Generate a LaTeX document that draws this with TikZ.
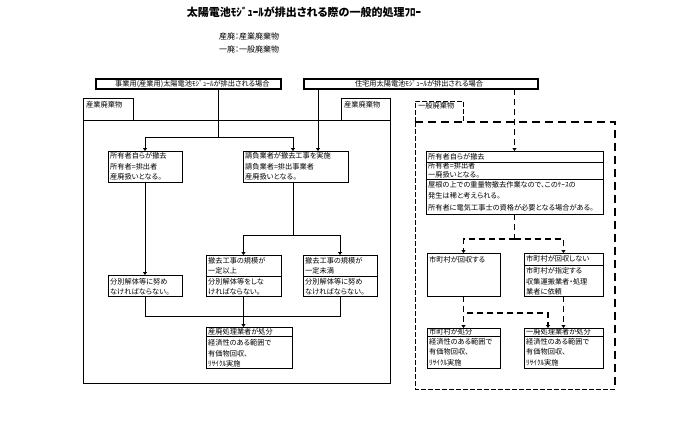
\documentclass[tikz,border=0pt]{standalone}
\usepackage{fontspec}
\setmainfont{Noto Sans CJK JP}[RawFeature={+palt}]
\usetikzlibrary{arrows.meta}
\begin{document}
\begin{tikzpicture}[x=1pt,y=-1pt,
  box/.style={draw, line width=0.8pt, anchor=north west, inner sep=0pt, outer sep=0pt},
  hbox/.style={draw, line width=1.8pt, anchor=north west, inner sep=0pt, outer sep=0pt},
  txt/.style={anchor=west, inner sep=0pt, font=\fontsize{7.2}{8}\selectfont},
  legtxt/.style={anchor=west, inner sep=0pt, font=\fontsize{8}{9}\selectfont},
  ln/.style={line width=0.8pt},
  arr/.style={line width=0.8pt, -{Triangle[width=4pt,length=3pt]}},
  dln/.style={line width=1.1pt, dash pattern=on 6pt off 4pt},
  darr/.style={line width=1.1pt, dash pattern=on 6pt off 4pt, -{Triangle[width=4pt,length=3pt]}},
  thind/.style={line width=0.8pt, dash pattern=on 5pt off 2pt},
  thickd/.style={line width=1.8pt, dash pattern=on 8pt off 5pt}
]
\useasboundingbox[fill=white] (0,0) rectangle (691,421);

% title and legend
\node[inner sep=0pt, font=\fontsize{11}{13}\selectfont\bfseries] (title) at (304,12) {太陽電池ﾓｼﾞｭｰﾙが排出される際の一般的処理ﾌﾛｰ};
\node[legtxt] (leg1) at (219,36) {産廃：産業廃棄物};
\node[legtxt] (leg2) at (219,49) {一廃：一般廃棄物};

% top boxes
\node[hbox, minimum width=185pt, minimum height=10pt] (top1) at (96,79) {};
\node[txt] (top1t) at (115,84) {事業用(産業用)太陽電池ﾓｼﾞｭｰﾙが排出される場合};
\node[hbox, minimum width=234pt, minimum height=10pt] (top2) at (304,79) {};
\node[txt, anchor=center] (top2t) at (419,84) {住宅用太陽電池ﾓｼﾞｭｰﾙが排出される場合};

% industrial waste region
\node[draw, line width=1.3pt, anchor=north west, inner sep=0pt, minimum width=307pt, minimum height=263pt] (big) at (83,120) {};
\node[box, minimum width=50pt, minimum height=22pt] (tabL) at (83,98) {};
\node[txt] (tabLt) at (86,105) {産業廃棄物};
\node[box, minimum width=49pt, minimum height=22pt] (tabR) at (341,98) {};
\node[txt] (tabRt) at (344,105) {産業廃棄物};

% general waste region (dashed)
\coordinate (gTab) at (415,101);
\coordinate (gTabR) at (463,101);
\coordinate (gNW) at (415,122);
\coordinate (gNE) at (615,122);
\coordinate (gSW) at (415,389);
\coordinate (gSE) at (615,389);
\draw[thind] (gNW) -- (gSW) -- (gSE);
\draw[thind] (gNW) -- (gTab) -- (gTabR) -- (gTabR |- gNW);
\draw[thickd] (gNW) -- (gNE) -- (gSE);
\node[txt] (tabGt) at (418,106) {一般廃棄物};

% left column boxes
\node[box, minimum width=74pt, minimum height=31pt] (own) at (108,151) {};
\node[txt] at (110,156) {所有者自らが撤去};
\node[txt] at (110,166.5) {所有者=排出者};
\node[txt] at (110,177) {産廃扱いとなる。};

\node[box, minimum width=105pt, minimum height=31pt] (ukeoi) at (243,151) {};
\node[txt] at (245,156) {請負業者が撤去工事を実施};
\node[txt] at (245,166.5) {請負業者=排出事業者};
\node[txt] at (245,177) {産廃扱いとなる。};

\node[box, minimum width=74pt, minimum height=21pt] (bunL) at (108,275) {};
\node[txt] at (110,282) {分別解体等に努め};
\node[txt] at (110,291.5) {なければならない。};

\node[box, minimum width=75pt, minimum height=41pt] (ijo) at (206,255) {};
\draw[ln] ([yshift=-21pt]ijo.north west) -- ([yshift=-21pt]ijo.north east);
\node[txt] at (208,261) {撤去工事の規模が};
\node[txt] at (208,271) {一定以上};
\node[txt] at (208,282) {分別解体等をしな};
\node[txt] at (208,292) {ければならない。};

\node[box, minimum width=74pt, minimum height=41pt] (miman) at (303,255) {};
\draw[ln] ([yshift=-21pt]miman.north west) -- ([yshift=-21pt]miman.north east);
\node[txt] at (305,261) {撤去工事の規模が};
\node[txt] at (305,271) {一定未満};
\node[txt] at (305,282) {分別解体等に努め};
\node[txt] at (305,292) {なければならない。};

\node[box, minimum width=86pt, minimum height=41pt] (sanpai) at (206,327) {};
\draw[ln] ([yshift=-9pt]sanpai.north west) -- ([yshift=-9pt]sanpai.north east);
\node[txt] at (208,332) {産廃処理業者が処分};
\node[txt] at (208,343) {経済性のある範囲で};
\node[txt] at (208,353.5) {有価物回収、};
\node[txt] at (208,364) {ﾘｻｲｸﾙ実施};

% right column boxes
\node[box, minimum width=177pt, minimum height=63pt] (ownR) at (426,151) {};
\draw[ln] ([yshift=-11pt]ownR.north west) -- ([yshift=-11pt]ownR.north east);
\draw[ln] ([yshift=-28pt]ownR.north west) -- ([yshift=-28pt]ownR.north east);
\node[txt] at (428,156.5) {所有者自らが撤去};
\node[txt] at (428,166) {所有者=排出者};
\node[txt] at (428,175) {一廃扱いとなる。};
\node[txt] at (428,184.5) {屋根の上での重量物撤去作業なので、このｹｰｽの};
\node[txt] at (428,195.5) {発生は稀と考えられる。};
\node[txt] at (428,207.5) {所有者に電気工事士の資格が必要となる場合がある。};

\node[box, minimum width=73pt, minimum height=43pt] (kaishu) at (427,253) {};
\node[txt] at (429,259.5) {市町村が回収する};

\node[box, minimum width=79pt, minimum height=43pt] (kaishuN) at (524,253) {};
\draw[ln] ([yshift=-12pt]kaishuN.north west) -- ([yshift=-12pt]kaishuN.north east);
\node[txt] at (526,259) {市町村が回収しない};
\node[txt] at (526,271) {市町村が指定する};
\node[txt] at (526,281.5) {収集運搬業者・処理};
\node[txt] at (526,292) {業者に依頼};

\node[box, minimum width=73pt, minimum height=40pt] (shobun) at (427,328) {};
\draw[ln] ([yshift=-8pt]shobun.north west) -- ([yshift=-8pt]shobun.north east);
\node[txt] at (429,331.5) {市町村が処分};
\node[txt] at (429,341.5) {経済性のある範囲で};
\node[txt] at (429,352) {有価物回収、};
\node[txt] at (429,363) {ﾘｻｲｸﾙ実施};

\node[box, minimum width=79pt, minimum height=40pt] (ippai) at (524,328) {};
\draw[ln] ([yshift=-8pt]ippai.north west) -- ([yshift=-8pt]ippai.north east);
\node[txt] at (526,331.5) {一廃処理業者が処分};
\node[txt] at (526,341.5) {経済性のある範囲で};
\node[txt] at (526,352) {有価物回収、};
\node[txt] at (526,363) {ﾘｻｲｸﾙ実施};

% connectors left
\coordinate (j1) at (218,137);
\coordinate (ukin1) at ([xshift=-2.5pt]ukeoi.north);
\coordinate (ukin2) at ([xshift=22.5pt]ukeoi.north);
\draw[ln] (top1.south -| j1) -- (j1);
\draw[arr] (j1) -| (own.north);
\draw[arr] (j1) -| (ukin1);
\draw[arr] (top2.south -| ukin2) -- (ukin2);
\draw[arr] (own.south) -- (bunL.north);
\coordinate (j2) at (293,235);
\draw[ln] (ukeoi.south -| j2) -- (j2);
\draw[arr] (j2) -| (ijo.north);
\draw[arr] (j2) -| (miman.north);
\coordinate (j3) at (243.5,316);
\draw[ln] (bunL.south) |- (j3);
\draw[ln] (miman.south) |- (j3);
\draw[arr] (ijo.south) -- (ijo.south |- sanpai.north);

% connectors right
\draw[darr] (top2.south -| ownR.north) -- (ownR.north);
\coordinate (j4) at (514.5,239);
\draw[dln] (ownR.south) -- (j4);
\draw[darr] (j4) -| (kaishu.north);
\draw[darr] (j4) -| (kaishuN.north);
\draw[darr] (kaishu.south) -- (shobun.north);
\coordinate (ip1) at ([xshift=-15.5pt]ippai.north);
\coordinate (j5) at (463.5,313);
\draw[darr] (kaishu.south) |- (ip1 |- j5) -- (ip1);
\draw[darr] (kaishuN.south) -- (ippai.north);
\end{tikzpicture}
\end{document}
